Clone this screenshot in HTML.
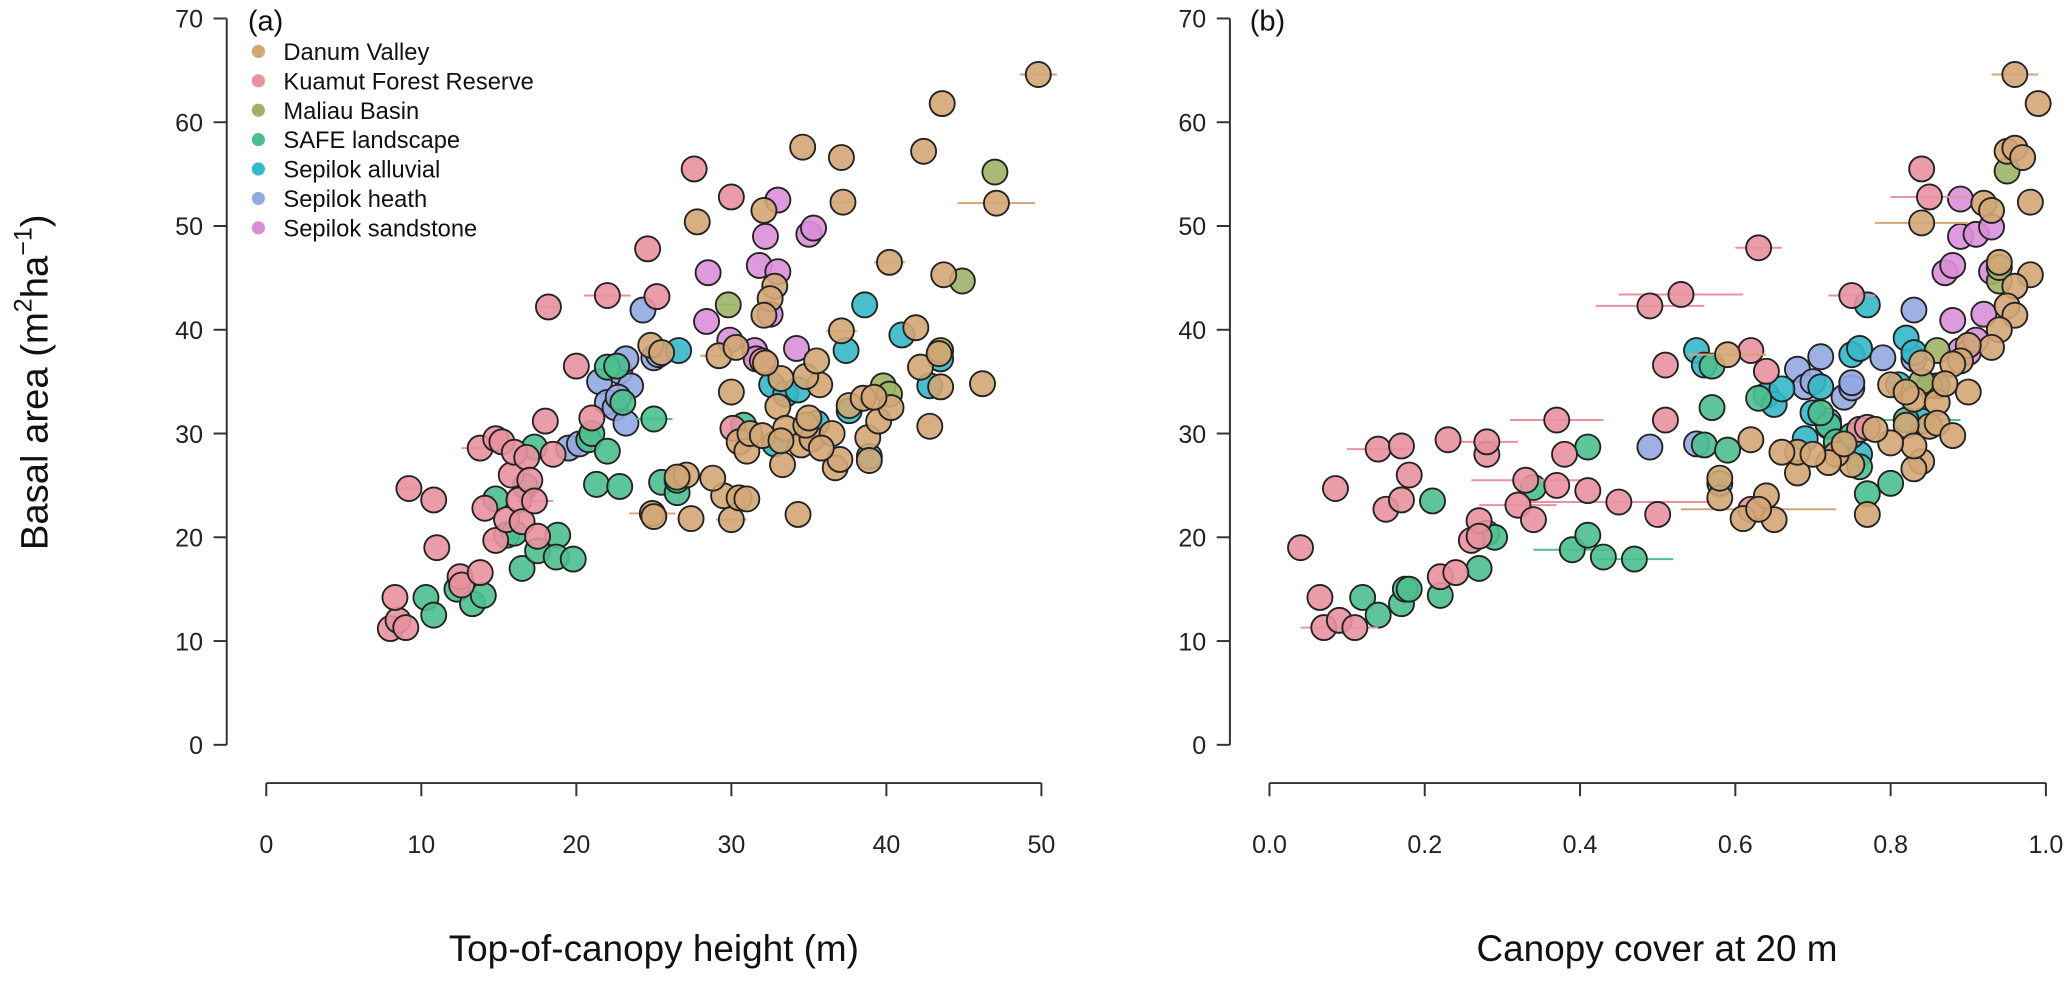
<!DOCTYPE html>
<html><head><meta charset="utf-8"><style>
body{margin:0;background:#fff;}
svg{display:block;font-family:"Liberation Sans",sans-serif;}
</style></head><body>
<svg id="chart" width="2067" height="987" viewBox="0 0 1568 748.7" xmlns="http://www.w3.org/2000/svg">
<g id="axes"></g>
<g id="marks"></g>
<text x="36" y="290" transform="rotate(-90 36 290)" text-anchor="middle" font-size="29" fill="#111">Basal area (m<tspan dy="-12" font-size="19">2</tspan><tspan dy="12">ha</tspan><tspan dy="-12" font-size="19">−1</tspan><tspan dy="12">)</tspan></text>
<text x="496" y="729" text-anchor="middle" font-size="28" fill="#111">Top-of-canopy height (m)</text>
<text x="1257" y="729" text-anchor="middle" font-size="28" fill="#111">Canopy cover at 20 m</text>
<text x="188" y="23" font-size="22" fill="#111">(a)</text>
<text x="948" y="23" font-size="22" fill="#111">(b)</text>
<g id="legend"></g>
</svg>
<script>
const sites = ["Danum Valley","Kuamut Forest Reserve","Maliau Basin","SAFE landscape","Sepilok alluvial","Sepilok heath","Sepilok sandstone"];
const colors = ["#d3a676","#e8919f","#9db468","#4dbf8f","#35b8c8","#94a8e2","#d98fd8"];
const yTicks = [0,10,20,30,40,50,60,70];
const xTicksA = [0,10,20,30,40,50];
const xTicksB = ["0.0","0.2","0.4","0.6","0.8","1.0"];
// panel a: [height, basal area, xerr]
const aDanum = [[49.8,64.6,1.2],[43.6,61.8,0],[42.4,57.2,0],[34.6,57.6,0],[37.1,56.6,0],[37.2,52.3,0.8],[47.1,52.2,2.5],[27.8,50.4,0],[32.1,51.5,0],[32.8,44.2,0],[32.5,43,0],[40.2,46.5,1],[43.7,45.3,0],[32.1,41.4,0],[37.1,39.9,1],[41.9,40.2,0],[42.2,36.4,0],[43.4,37.7,0],[43.5,34.5,0],[46.2,34.8,0],[42.8,30.7,0],[37.6,32.7,0],[38.5,33.4,0],[35.7,34.7,0],[33.2,35.3,0],[34.8,35.5,0],[30,34,0],[29.2,37.5,1.2],[30.3,38.3,0],[32.2,36.8,0],[35.5,37,0],[24.8,38.5,0],[25.5,37.8,0],[30.5,29.2,0],[31,28.3,0],[31.2,30,0],[33,32.6,0],[33.5,30.5,0],[34.5,28.9,0],[35.2,29.5,0],[36.5,30,0],[34.8,30.8,0],[33.3,27,0],[36.7,26.7,0],[38.8,29.6,0],[39.5,31.2,0],[38.9,27.4,0],[35,31.5,0],[29.5,24,0],[28.8,25.7,0],[27.1,26,0],[26.5,25.8,0],[24.9,22.3,1.5],[25,22,0],[27.4,21.8,0],[30,21.7,1],[30.5,23.8,0],[31,23.7,0],[34.3,22.2,0],[37,27.5,0],[40.3,32.5,0],[39.2,33.5,0],[35.8,28.6,0],[32,29.8,0],[33.2,29.3,0]];
const aKuamut = [[8,11.2,0],[8.5,12,0],[8.3,14.2,0],[9,11.3,0],[9.2,24.7,0.8],[10.8,23.6,0],[11,19,0],[12.5,16.2,0],[12.6,15.4,0],[13.8,28.6,1.2],[13.8,16.6,0],[14.1,22.8,0],[14.8,29.5,0],[15.2,29.2,0],[14.8,19.7,0.8],[15.5,21.7,0],[15.8,26,0],[16,28.2,0],[16.3,23.6,0],[16.5,21.5,0],[16.8,27.7,0],[17,25.5,0],[17.3,23.5,1.2],[18,31.2,0],[18.2,42.2,0.7],[18.5,28,0],[20,36.5,0],[21,31.5,0],[22,43.3,1.5],[25.2,43.2,0],[24.6,47.8,0],[27.6,55.5,0],[30,52.8,0],[32,37,0],[30.1,30.5,0],[17.5,20.1,0]];
const aMaliau = [[29.8,42.4,0.6],[44.9,44.7,0],[47,55.2,0],[43.5,38,0],[39.8,34.6,0],[40.2,33.8,0]];
const aSafe = [[10.3,14.2,0],[10.8,12.5,0],[12.3,15,0],[13.3,13.6,0],[14,14.4,0],[14.8,23.7,0],[15.5,20.2,0],[16,20.4,0],[16.5,17,0],[16.7,24.9,0],[17.3,28.7,0],[17.5,18.7,0],[18.8,20.2,0],[18.7,18.1,0],[19.8,17.9,0],[20.8,29.4,0],[21,30,0],[21.3,25.1,0],[22,36.4,0],[22,28.3,0],[22.8,24.9,0],[25,31.4,1.2],[25.5,25.3,0],[26.5,24.3,0],[26.5,25.5,0],[30.8,30.8,0],[23,33,0],[22.6,36.5,0]];
const aAlluvial = [[26.6,38,0],[32.6,34.7,0],[33.5,33.8,0],[34.3,34.2,0],[37.4,38,0],[38.6,42.4,0],[41,39.5,0],[43.5,37.2,0],[42.8,34.6,0],[37.6,32.2,0],[38.9,27.8,0],[32.8,29,0],[35.5,31,0]];
const aHeath = [[19.5,28.6,0],[20.2,29,0],[21.5,35,0],[22,33,0],[22.5,32.5,0],[22.8,36,0],[23.2,37.2,0],[23.2,31,0],[23.5,34.6,0],[24.3,41.9,0],[25,37.3,0],[25.3,37.6,0],[22.7,33.5,0]];
const aSandstone = [[28.5,45.5,0],[28.4,40.8,0],[29.9,39,0],[31.5,38,0],[31.8,46.2,0],[32.2,49,0],[32.5,41.5,0],[33,52.5,0],[33,45.6,0],[35,49.2,0],[35.3,49.8,0],[34.2,38.2,0],[31.6,37.2,0]];
// panel b: [canopy cover, basal area, xerr]
const bDanum = [[0.96,64.6,0.03],[0.99,61.8,0],[0.95,57.2,0],[0.96,57.5,0],[0.97,56.6,0],[0.92,52.2,0],[0.98,52.3,0],[0.93,51.5,0],[0.94,46.5,0],[0.98,45.3,0],[0.96,44.2,0],[0.95,42.3,0],[0.96,41.4,0],[0.94,40,0],[0.93,38.3,0],[0.9,38.5,0],[0.9,34,0],[0.89,37,0],[0.88,36.7,0],[0.85,30.7,0],[0.83,33.3,0],[0.84,36.8,0],[0.86,33,0],[0.84,27.3,0],[0.83,26.6,0],[0.82,30.8,0],[0.83,28.8,0],[0.8,29.1,0],[0.77,22.2,0],[0.75,27,0],[0.73,28,0],[0.72,27.2,0],[0.68,26.2,0],[0.68,28.2,0],[0.7,28,0],[0.74,29,0],[0.64,24,0],[0.65,21.7,0],[0.61,21.8,0],[0.63,22.7,0.1],[0.58,23.8,0],[0.58,25.7,0],[0.62,29.4,0],[0.66,28.2,0],[0.59,37.6,0.05],[0.8,34.7,0],[0.78,30.4,0],[0.87,34.8,0],[0.86,31,0],[0.88,29.8,0],[0.82,34,0],[0.84,50.3,0.06]];
const bKuamut = [[0.04,19,0],[0.065,14.2,0],[0.07,11.3,0.03],[0.09,12,0],[0.085,24.7,0],[0.11,11.3,0.03],[0.14,28.5,0.04],[0.15,22.7,0],[0.17,28.8,0],[0.17,23.6,0],[0.18,26,0],[0.22,16.2,0],[0.23,29.4,0],[0.24,16.6,0],[0.26,19.7,0],[0.27,21.6,0],[0.28,28,0],[0.28,29.2,0.04],[0.32,23.1,0.05],[0.33,25.5,0.07],[0.34,21.7,0],[0.37,31.3,0.06],[0.37,25,0],[0.38,28,0],[0.41,24.5,0],[0.45,23.4,0.12],[0.49,42.3,0.07],[0.51,36.6,0],[0.51,31.3,0],[0.53,43.4,0.08],[0.62,38,0],[0.63,47.9,0.03],[0.62,22.7,0],[0.75,43.3,0.03],[0.76,30.4,0],[0.77,30.6,0],[0.84,55.5,0],[0.85,52.8,0.05],[0.27,20.1,0],[0.64,36,0],[0.5,22.2,0]];
const bMaliau = [[0.95,55.3,0],[0.94,44.7,0],[0.94,46,0],[0.86,38,0],[0.85,34.6,0],[0.84,35,0]];
const bSafe = [[0.12,14.2,0],[0.14,12.5,0],[0.17,13.6,0],[0.175,15,0],[0.18,15,0],[0.21,23.5,0],[0.22,14.4,0],[0.27,17,0],[0.28,20.4,0],[0.29,20,0],[0.34,24.8,0],[0.39,18.8,0.05],[0.41,20.2,0],[0.43,18.1,0],[0.47,17.9,0.05],[0.41,28.7,0],[0.56,28.9,0],[0.57,32.5,0],[0.57,36.5,0],[0.58,25.2,0],[0.59,28.4,0],[0.63,33.4,0],[0.72,30.8,0],[0.73,29.2,0],[0.75,29.8,0],[0.77,24.2,0],[0.8,25.2,0],[0.76,26.8,0],[0.71,32,0],[0.82,31.3,0.07]];
const bAlluvial = [[0.55,38,0],[0.56,36.6,0],[0.64,33.7,0],[0.65,32.8,0],[0.66,34.3,0],[0.69,29.5,0],[0.7,32,0],[0.71,34.5,0],[0.75,37.6,0],[0.76,38.2,0],[0.77,42.4,0],[0.81,34.7,0],[0.82,39.2,0],[0.83,37.8,0],[0.84,31.2,0],[0.86,34.6,0],[0.76,28,0],[0.72,30.7,0]];
const bHeath = [[0.49,28.7,0],[0.55,29,0],[0.68,36.2,0],[0.69,34.5,0],[0.7,35,0],[0.71,37.4,0],[0.72,31.2,0],[0.74,33.5,0],[0.75,34.4,0],[0.75,34.9,0],[0.79,37.3,0],[0.83,41.9,0],[0.83,37.2,0]];
const bSandstone = [[0.87,45.5,0],[0.88,46.2,0],[0.89,49,0],[0.89,52.6,0],[0.91,49.2,0],[0.92,41.5,0],[0.93,45.6,0],[0.93,49.9,0],[0.88,40.9,0],[0.89,38,0],[0.9,37.8,0],[0.91,39,0]];

const NS="http://www.w3.org/2000/svg";
function mk(tag,attrs,parent){const e=document.createElementNS(NS,tag);for(const k in attrs)e.setAttribute(k,attrs[k]);parent.appendChild(e);return e;}
const yScale = v => 565 - v*(551/70);
const xA = v => 202 + v*(588/50);
const xB = v => 963 + v*589;
const axes=document.getElementById('axes');
const marks=document.getElementById('marks');
const legend=document.getElementById('legend');
const stroke="#333";

function drawPanel(yx, xScale, xTicks, xmin, xmax, tag){
  let l=mk('line',{x1:yx,x2:yx,y1:yScale(0),y2:yScale(70),stroke:stroke,'stroke-width':1.5},axes);
  
  
  yTicks.forEach(t=>{
    let tk=mk('line',{x1:yx-10,x2:yx,y1:yScale(t),y2:yScale(t),stroke:stroke,'stroke-width':1.5},axes);
    
    
    let tx=mk('text',{x:yx-18,y:yScale(t)+7,'text-anchor':'end','font-size':19,fill:'#222'},axes);
    tx.textContent=t;
    
    
  });
  let xl=mk('line',{x1:xScale(xmin),x2:xScale(xmax),y1:594,y2:594,stroke:stroke,'stroke-width':1.5},axes);
  
  
  xTicks.forEach(t=>{
    const v=parseFloat(t);
    let tk=mk('line',{x1:xScale(v),x2:xScale(v),y1:594,y2:604,stroke:stroke,'stroke-width':1.5},axes);
    
    
    let tx=mk('text',{x:xScale(v),y:647,'text-anchor':'middle','font-size':19,fill:'#222'},axes);
    tx.textContent=t;
    
    
  });
}
drawPanel(172,xA,xTicksA,0,50,'a');
drawPanel(933,xB,xTicksB,0,1,'b');

function drawSeries(data, xScale, ci, tag){
  data.forEach(d=>{
    if(d[2]>0){
      let e=mk('line',{x1:xScale(d[0]-d[2]),x2:xScale(d[0]+d[2]),y1:yScale(d[1]),y2:yScale(d[1]),stroke:colors[ci],'stroke-width':1.5},marks);
      
      
    }
  });
  data.forEach(d=>{
    let c=mk('circle',{cx:xScale(d[0]),cy:yScale(d[1]),r:9.5,fill:colors[ci],'fill-opacity':0.9,stroke:'#222','stroke-width':1.4},marks);
    
    
  });
}
const aSets=[aDanum,aKuamut,aMaliau,aSafe,aAlluvial,aHeath,aSandstone];
const bSets=[bDanum,bKuamut,bMaliau,bSafe,bAlluvial,bHeath,bSandstone];
const tags=['danum','kuamut','maliau','safe','alluvial','heath','sandstone'];
[6,5,4,3,2,1,0].forEach(i=>{drawSeries(aSets[i],xA,i,'a-'+tags[i]);drawSeries(bSets[i],xB,i,'b-'+tags[i]);});

sites.forEach((s,i)=>{
  const y=39+i*22.3;
  let c=mk('circle',{cx:196,cy:y,r:5,fill:colors[i]},legend);
  
  
  let t=mk('text',{x:215,y:y+6.5,'font-size':18,fill:'#111'},legend);
  t.textContent=s;
  
  
});
</script>
</body></html>
